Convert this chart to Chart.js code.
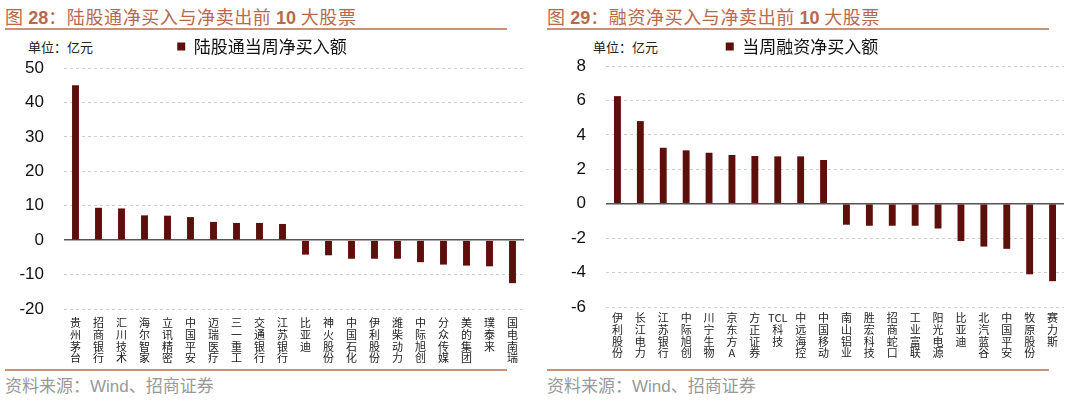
<!DOCTYPE html>
<html>
<head>
<meta charset="utf-8">
<script src="https://cdn.jsdelivr.net/npm/chart.js@4"></script>
<style>
  body { margin: 0; width: 1080px; height: 401px; background: #fff; overflow: hidden;
         font-family: "Noto Sans CJK SC", sans-serif; }
  .panel { position: absolute; top: 0; width: 540px; height: 401px; }
  .title { position: absolute; left: 5px; top: 5px; width: 502px; height: 23px;
           border-bottom: 2px solid #cf8f73; color: #b8694d; font-size: 18px; line-height: 22px;
           letter-spacing: 0.6px; white-space: nowrap; }
  .title b { font-family: "Liberation Sans", Arial, sans-serif; font-weight: bold; letter-spacing: 0; }
  .unit { position: absolute; top: 37px; font-size: 13px; color: #222; }
  canvas { position: absolute; left: 0; top: 35px; }
  .source { position: absolute; left: 5px; top: 369px; width: 502px; border-top: 2px solid #cf8f73;
            color: #999; font-size: 17px; line-height: 28px; white-space: nowrap; }
  .source span { font-family: "Liberation Sans", Arial, sans-serif; }
</style>
</head>
<body>
<div class="panel" style="left:0">
  <div class="title">图 <b>28</b>：陆股通净买入与净卖出前 <b>10</b> 大股票</div>
  <div class="unit" style="left:28px">单位：亿元</div>
  <canvas id="chart28" width="540" height="333"></canvas>
  <div class="source">资料来源：<span>Wind</span>、招商证券</div>
</div>
<div class="panel" style="left:540px">
  <div class="title" style="left:7px">图 <b>29</b>：融资净买入与净卖出前 <b>10</b> 大股票</div>
  <div class="unit" style="left:53px">单位：亿元</div>
  <canvas id="chart29" width="540" height="333"></canvas>
  <div class="source" style="left:7px">资料来源：<span>Wind</span>、招商证券</div>
</div>
<script>
// 图28 陆股通
const hkStocks = ['贵州茅台', '招商银行', '汇川技术', '海尔智家', '立讯精密', '中国平安', '迈瑞医疗',
  '三一重工', '交通银行', '江苏银行', '比亚迪', '神火股份', '中国石化', '伊利股份', '潍柴动力',
  '中际旭创', '分众传媒', '美的集团', '璞泰来', '国电南瑞'];
const hkNetBuy = [45.0, 9.4, 9.2, 7.2, 7.1, 6.7, 5.3, 5.0, 5.0, 4.7,
  -4.2, -4.4, -5.4, -5.4, -5.4, -6.4, -7.1, -7.4, -7.6, -12.5];
const hkTicks = { min: -20, max: 50, step: 10 };

// 图29 融资
const marginStocks = ['伊利股份', '长江电力', '江苏银行', '中际旭创', '川宁生物', '京东方A', '方正证券',
  'TCL科技', '中远海控', '中国移动', '南山铝业', '胜宏科技', '招商蛇口', '工业富联', '阳光电源',
  '比亚迪', '北汽蓝谷', '中国平安', '牧原股份', '赛力斯'];
const marginNetBuy = [6.25, 4.8, 3.25, 3.1, 2.96, 2.83, 2.77, 2.75, 2.75, 2.54,
  -1.22, -1.28, -1.28, -1.28, -1.44, -2.17, -2.49, -2.62, -4.1, -4.5];
const marginTicks = { min: -6, max: 8, step: 2 };

const barColor = '#5c0f0b';

// split a name into stacked characters, keep latin runs like "TCL" on one line
function stack(name) {
  return name.match(/[A-Za-z]{2,}|./g);
}

function makeChart(id, labels, values, seriesName, ticks, box) {
  const legendHeight = {
    id: 'legendHeight',
    beforeInit(chart) {
      const fit = chart.legend.fit;
      chart.legend.fit = function () {
        fit.call(this);
        this.height = box.legend;
      };
    }
  };

  return new Chart(document.getElementById(id), {
    type: 'bar',
    data: {
      labels: labels.map(stack),
      datasets: [{
        label: seriesName,
        data: values,
        backgroundColor: barColor,
        borderWidth: 0,
        barPercentage: 1,
        categoryPercentage: 0.3
      }]
    },
    options: {
      responsive: false,
      animation: false,
      devicePixelRatio: 1,
      layout: { padding: { right: 16 } },
      plugins: {
        tooltip: { enabled: false },
        legend: {
          position: 'top',
          labels: {
            boxWidth: 8,
            boxHeight: 8,
            padding: 3,
            color: '#111',
            font: { family: '"Noto Sans CJK SC", sans-serif', size: 17 }
          }
        }
      },
      scales: {
        x: {
          grid: { display: false, drawTicks: false },
          border: { display: false },
          ticks: {
            autoSkip: false,
            maxRotation: 0,
            minRotation: 0,
            padding: box.labelPad,
            color: '#222',
            font: { family: '"Noto Sans CJK SC", sans-serif', size: 11, lineHeight: 1.07 }
          },
          afterFit(scale) { scale.height = box.xHeight; }
        },
        y: {
          min: ticks.min,
          max: ticks.max,
          grid: {
            drawTicks: false,
            color: ctx => ctx.tick && ctx.tick.value === 0 ? '#555' : '#cfcfcf',
            lineWidth: ctx => ctx.tick && ctx.tick.value === 0 ? 1.5 : 1
          },
          border: {
            display: false,
            dash: ctx => ctx.tick && ctx.tick.value === 0 ? [] : [3, 3]
          },
          ticks: {
            stepSize: ticks.step,
            padding: 20,
            color: '#111',
            font: { family: '"Liberation Sans", Arial, sans-serif', size: 17 }
          },
          afterFit(scale) { scale.width = box.yWidth; }
        }
      }
    },
    plugins: [legendHeight]
  });
}

makeChart('chart28', hkStocks, hkNetBuy, '陆股通当周净买入额', hkTicks,
  { legend: 33, xHeight: 59, yWidth: 64, labelPad: 8 });
makeChart('chart29', marginStocks, marginNetBuy, '当周融资净买入额', marginTicks,
  { legend: 31, xHeight: 61, yWidth: 66, labelPad: 5 });
</script>
</body>
</html>
